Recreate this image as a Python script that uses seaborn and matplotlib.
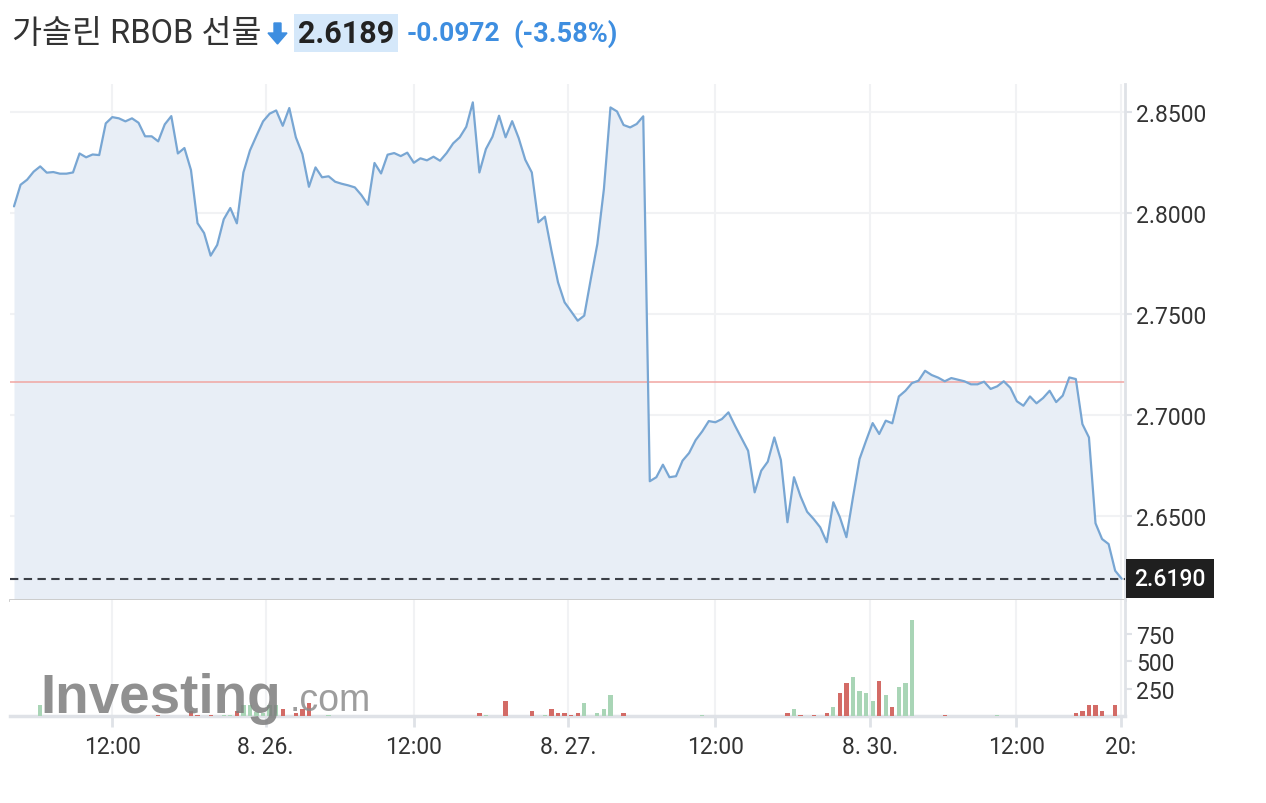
import numpy as np
import pandas as pd
import matplotlib
matplotlib.use("Agg")
import matplotlib.pyplot as plt
from matplotlib.patches import Polygon
import seaborn as sns

# ---------------- data ----------------
price = [
    2.8033, 2.8140, 2.8165, 2.8205, 2.8231, 2.8200, 2.8203, 2.8195, 2.8195, 2.8201,
    2.8295, 2.8276, 2.8290, 2.8287, 2.8444, 2.8475, 2.8469, 2.8454, 2.8469, 2.8447,
    2.8380, 2.8380, 2.8355, 2.8439, 2.8480, 2.8295, 2.8322, 2.8213, 2.7950, 2.7901,
    2.7789, 2.7842, 2.7969, 2.8025, 2.7949, 2.8201, 2.8310, 2.8383, 2.8454, 2.8492,
    2.8508, 2.8432, 2.8520,
    2.8375, 2.8292, 2.8130, 2.8226, 2.8177, 2.8182, 2.8155, 2.8145, 2.8137, 2.8127,
    2.8089, 2.8041, 2.8248, 2.8196, 2.8289, 2.8297, 2.8282, 2.8299, 2.8249, 2.8271,
    2.8261, 2.8279, 2.8259, 2.8297, 2.8345, 2.8375, 2.8427, 2.8548, 2.8201, 2.8317,
    2.8378, 2.8482, 2.8375, 2.8455, 2.8371, 2.8264, 2.8201, 2.7954, 2.7982, 2.7813,
    2.7657, 2.7558, 2.7513, 2.7467,
    2.7492, 2.7673, 2.7847, 2.8119, 2.8523, 2.8503, 2.8436, 2.8424, 2.8441, 2.8479,
    2.6672, 2.6692, 2.6754, 2.6692, 2.6697, 2.6774, 2.6812, 2.6876, 2.6919, 2.6970,
    2.6964, 2.6980, 2.7013, 2.6947, 2.6885, 2.6823, 2.6617, 2.6724, 2.6769, 2.6889,
    2.6777, 2.6469, 2.6692, 2.6597, 2.6521, 2.6485, 2.6444, 2.6370, 2.6568, 2.6494,
    2.6395, 2.6593, 2.6782,
    2.6873, 2.6960, 2.6906, 2.6972, 2.6959, 2.7092, 2.7120, 2.7158, 2.7170, 2.7219,
    2.7198, 2.7185, 2.7167, 2.7183, 2.7175, 2.7167, 2.7152, 2.7152, 2.7165, 2.7129,
    2.7142, 2.7167, 2.7135, 2.7068, 2.7046, 2.7092, 2.7058, 2.7084, 2.7120, 2.7064,
    2.7096, 2.7186, 2.7178, 2.6955, 2.6889, 2.6464, 2.6386, 2.6361, 2.6229, 2.6189,
]

vol_idx = [4, 22, 27, 28, 30, 32, 33, 34, 35, 36, 37, 38, 39, 40, 41, 43, 44, 45, 48,
           71, 72, 75, 79, 81, 82, 83, 84, 85, 86, 87, 89, 90, 91, 93, 105,
           118, 119, 120, 122, 124, 125, 126, 127, 128, 129, 130, 131, 132, 133, 134,
           135, 136, 137, 142, 150, 162, 163, 164, 165, 166, 168]
vol_val = [100, 10, 46, 10, 10, 10, 10, 46, 100, 100, 40, 30, 100, 100, 64, 27, 64, 116, 10,
           27, 10, 137, 46, 10, 64, 27, 27, 10, 27, 119, 27, 64, 192, 27, 10,
           27, 64, 10, 10, 27, 82, 210, 302, 357, 229, 210, 137, 320, 192, 82,
           265, 302, 870, 10, 10, 27, 46, 100, 100, 46, 100]
vol_dir = ["up", "down", "down", "down", "down", "up", "up", "down", "up", "up", "up", "up", "up", "up", "down", "down", "down", "down", "up",
           "down", "up", "down", "down", "up", "down", "down", "down", "down", "down", "up", "up", "up", "up", "down", "up",
           "down", "up", "down", "down", "down", "up", "down", "down", "up", "up", "up", "up", "down", "up", "down",
           "up", "up", "up", "down", "up", "down", "down", "down", "down", "down", "down"]

x_tick_pos = [15, 38.4, 61, 84.5, 107, 130.6, 152.9, 168.9]
x_tick_labels = ["12:00", "8. 26.", "12:00", "8. 27.", "12:00", "8. 30.", "12:00", "20:"]
price_ticks = [2.65, 2.70, 2.75, 2.80, 2.85]
vol_ticks = [250, 500, 750]
prev_close = 2.7161
last_price = 2.6190

title = "가솔린 RBOB 선물"
last_text = "2.6189"
chg_text = "-0.0972"
pct_text = "(-3.58%)"

# ---------------- style ----------------
sns.set_theme(style="white")
plt.rcParams['font.family'] = ['Roboto', 'Noto Sans CJK KR', 'DejaVu Sans']

W, H = 1266, 804
fig = plt.figure(figsize=(W / 100, H / 100), dpi=100)
fig.patch.set_facecolor("white")


def fx(px):
    return px / W


def fy(py):
    return 1 - py / H


LEFT, RIGHT = 10, 1125
ax = fig.add_axes([fx(LEFT), fy(601), (RIGHT - LEFT) / W, (601 - 85) / H])
axv = fig.add_axes([fx(LEFT), fy(717), (RIGHT - LEFT) / W, (717 - 601) / H], sharex=ax)

GRID = "#f1f2f4"
AXC = "#dfe2e7"
TXT = "#333333"
TICKFS = 16.5

df = pd.DataFrame({"idx": np.arange(len(price)), "price": price})
ax.fill_between(df["idx"], df["price"], 2.5, color="#e8eef6", zorder=1, linewidth=0)
sns.lineplot(data=df, x="idx", y="price", ax=ax, color="#78a6d3", linewidth=1.6, zorder=3)

ax.set_xlim(-0.61, 169.5)
ax.set_ylim(2.6084, 2.8639)
ax.axhline(prev_close, color="#f1a5a2", lw=1.1, zorder=2)
ax.axhline(last_price, color="#3b3f46", lw=1.5, linestyle=(0, (4, 2.6)), zorder=4)

ax.set_yticks(price_ticks)
ax.set_yticklabels([f"{v:.4f}" for v in price_ticks])
ax.yaxis.tick_right()
ax.tick_params(axis="y", right=True, length=5, width=1.5, color=AXC, labelsize=TICKFS,
               labelcolor=TXT, pad=3)
ax.tick_params(axis="x", bottom=False, labelbottom=False)
ax.set_xticks(x_tick_pos)
ax.grid(True, color=GRID, lw=1.5, zorder=0)
ax.set_axisbelow(True)
for s in ["left", "top"]:
    ax.spines[s].set_visible(False)
ax.spines["right"].set_color(AXC)
ax.spines["right"].set_linewidth(2)
ax.spines["bottom"].set_color("#c9c9c9")
ax.spines["bottom"].set_linewidth(2)
ax.set_xlabel("")
ax.set_ylabel("")

ax.annotate(f"{last_price:.4f}", xy=(1.0, last_price), xycoords=ax.get_yaxis_transform(),
            xytext=(6.5, 0), textcoords="offset points", ha="left", va="center",
            fontsize=TICKFS, color="white", fontweight="medium",
            bbox=dict(boxstyle="square,pad=0.35", fc="#1f1f1f", ec="none"),
            annotation_clip=False, zorder=10)

# ---------------- volume ----------------
vdf = pd.DataFrame({"idx": vol_idx, "vol": vol_val, "dir": vol_dir})
sns.barplot(data=vdf, x="idx", y="vol", hue="dir", native_scale=True, dodge=False,
            palette={"up": "#a9d5b6", "down": "#d36b66"}, saturation=1,
            width=0.65, linewidth=0, errorbar=None, legend=False, ax=axv, zorder=3)
axv.set_xlim(-0.61, 169.5)
axv.set_ylim(0, 1056)
axv.set_yticks(vol_ticks)
axv.set_yticklabels([str(v) for v in vol_ticks])
axv.yaxis.tick_right()
axv.tick_params(axis="y", right=True, length=5, width=1.5, color=AXC, labelsize=TICKFS,
                labelcolor=TXT, pad=3)
axv.set_xticks(x_tick_pos)
axv.set_xticklabels(x_tick_labels)
axv.tick_params(axis="x", bottom=True, length=8, width=2, color=AXC, labelsize=TICKFS,
                labelcolor=TXT, pad=6)
axv.grid(True, axis="x", color=GRID, lw=1.5, zorder=0)
axv.set_axisbelow(True)
for s in ["left", "top"]:
    axv.spines[s].set_visible(False)
axv.spines["right"].set_color(AXC)
axv.spines["right"].set_linewidth(2)
axv.spines["bottom"].set_color(AXC)
axv.spines["bottom"].set_linewidth(2.5)
axv.set_xlabel("")
axv.set_ylabel("")

# watermark
fig.text(fx(40), fy(713), "Investing", fontsize=39.5, fontweight="bold", color="#7d7d7d",
         alpha=0.85, ha="left", va="baseline", family=["Liberation Sans", "DejaVu Sans"], zorder=1)
fig.text(fx(290), fy(711), ".com", fontsize=27, color="#8c8c8c", alpha=0.85,
         ha="left", va="baseline", family=["Liberation Sans", "DejaVu Sans"], zorder=1)

# ---------------- header ----------------
fig.text(fx(12), fy(34), title, fontsize=23.5, color=TXT, ha="left", va="center")
arrow = Polygon([[fx(274), fy(24)], [fx(281), fy(24)], [fx(281), fy(34)], [fx(287), fy(34)],
                 [fx(277.5), fy(45)], [fx(268), fy(34)], [fx(274), fy(34)]],
                closed=True, transform=fig.transFigure, color="#3e8ee0")
fig.patches.append(arrow)
fig.text(fx(298), fy(34), last_text, fontsize=22, fontweight="bold", color="#222222",
         ha="left", va="center",
         bbox=dict(boxstyle="square,pad=0.12", fc="#d5e8fa", ec="none"))
fig.text(fx(407), fy(34), chg_text, fontsize=19, fontweight="bold", color="#3e8ee0",
         ha="left", va="center")
fig.text(fx(513), fy(34), pct_text, fontsize=19.5, fontweight="bold", color="#3e8ee0",
         ha="left", va="center")

fig.savefig("out.png", dpi=100)
